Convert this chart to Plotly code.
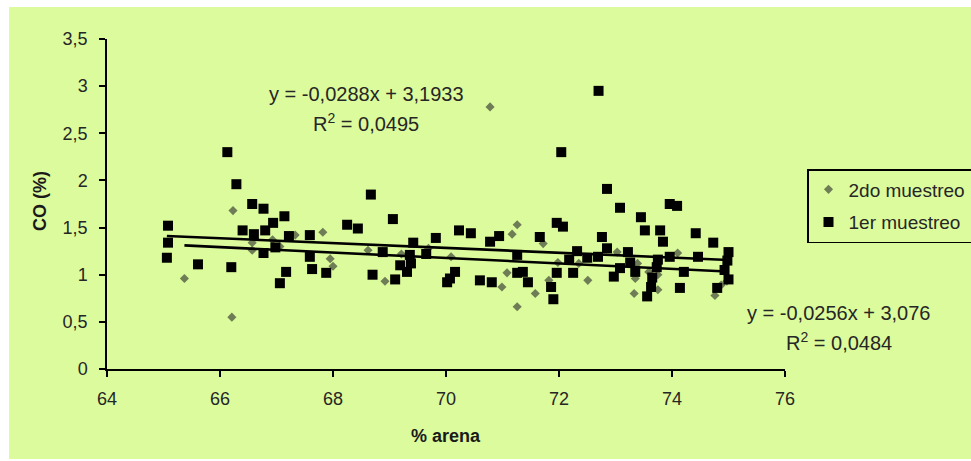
import plotly.graph_objects as go

# --- data -------------------------------------------------------------
# 1er muestreo (% arena, CO %)
arena_1er = [65.08, 65.08, 65.06, 65.61, 66.13, 66.20, 66.29, 66.40, 66.57, 66.60,
             66.77, 66.80, 66.77, 66.94, 66.98, 67.06, 67.14, 67.17, 67.22, 67.59,
             67.59, 67.63, 67.88, 68.25, 68.44, 68.67, 68.70, 68.88, 69.06, 69.10,
             69.19, 69.31, 69.38, 69.42, 69.36, 69.65, 69.82, 70.02, 70.07, 70.16,
             70.23, 70.44, 70.60, 70.78, 70.81, 70.94, 71.26, 71.26, 71.36, 71.45,
             71.66, 71.86, 71.90, 71.96, 72.07, 72.04, 71.96, 72.25, 72.32, 72.18,
             72.50, 72.69, 72.70, 72.76, 72.85, 72.85, 72.97, 73.08, 73.08, 73.22,
             73.26, 73.35, 73.45, 73.52, 73.56, 73.63, 73.65, 73.73, 73.75, 73.79,
             73.84, 73.96, 74.09, 73.96, 74.14, 74.21, 74.42, 74.46, 74.73, 74.80,
             74.93, 75.00, 75.00, 74.98]
co_1er = [1.52, 1.34, 1.18, 1.11, 2.30, 1.08, 1.96, 1.47, 1.75, 1.43,
          1.70, 1.47, 1.23, 1.55, 1.29, 0.91, 1.62, 1.03, 1.41, 1.42,
          1.19, 1.06, 1.02, 1.53, 1.49, 1.85, 1.00, 1.24, 1.59, 0.95,
          1.10, 1.03, 1.12, 1.34, 1.21, 1.22, 1.39, 0.92, 0.96, 1.03,
          1.47, 1.44, 0.94, 1.35, 0.92, 1.41, 1.21, 1.02, 1.03, 0.92,
          1.40, 0.87, 0.74, 1.55, 1.51, 2.30, 1.02, 1.02, 1.25, 1.16,
          1.18, 1.19, 2.95, 1.40, 1.91, 1.28, 0.98, 1.71, 1.07, 1.24,
          1.13, 1.03, 1.61, 1.47, 0.77, 0.87, 0.97, 1.08, 1.16, 1.47,
          1.35, 1.75, 1.73, 1.19, 0.86, 1.03, 1.44, 1.19, 1.34, 0.86,
          1.05, 1.24, 0.95, 1.15]

# 2do muestreo (% arena, CO %)
arena_2do = [65.37, 66.23, 66.21, 66.57, 66.57, 66.93, 67.06, 67.33, 67.82, 67.95,
             68.00, 68.62, 68.92, 69.21, 69.69, 70.09, 70.78, 70.99, 71.08, 71.17,
             71.26, 71.26, 71.58, 71.72, 71.82, 71.98, 72.35, 72.51, 73.03, 73.33,
             73.35, 73.39, 73.59, 73.75, 73.75, 74.10, 74.76, 74.87, 74.97]
co_2do = [0.96, 1.68, 0.55, 1.34, 1.26, 1.37, 1.30, 1.42, 1.45, 1.17,
          1.09, 1.26, 0.93, 1.22, 1.28, 1.19, 2.78, 0.87, 1.02, 1.43,
          1.53, 0.66, 0.80, 1.33, 0.94, 1.13, 1.12, 0.94, 1.24, 0.80,
          0.96, 1.12, 1.03, 0.84, 1.00, 1.23, 0.78, 0.89, 0.93]

# linear trend lines (slope, intercept, R²) as printed on the chart
trend_2do = (-0.0288, 3.1933, 0.0495)
trend_1er = (-0.0256, 3.076, 0.0484)

x_ticks = [64, 66, 68, 70, 72, 74, 76]
y_ticks = [0, 0.5, 1, 1.5, 2, 2.5, 3, 3.5]

# --- figure -----------------------------------------------------------
BG = "#DCFB9C"
FONT = "Liberation Sans, Arial, sans-serif"
W, H = 971, 461
ML, MR, MT, MB = 107, 186, 39, 92
PW, PH = W - ML - MR, H - MT - MB


def px_to_paper(px, py):
    return (px - ML) / PW, (H - MB - py) / PH


def fmt(v, nd):
    return f"{v:.{nd}f}".replace(".", ",")


fig = go.Figure()

fig.add_trace(go.Scatter(
    x=arena_2do, y=co_2do, mode="markers", name="2do muestreo",
    legendgroup="a",
    marker=dict(symbol="diamond", size=7, color="#6E7D55", line=dict(width=0)),
))
fig.add_trace(go.Scatter(
    x=arena_1er, y=co_1er, mode="markers", name="1er muestreo",
    legendgroup="b",
    marker=dict(symbol="square", size=10, color="#000000", line=dict(width=0)),
))


def trend_xy(xs, coef):
    m, b, _ = coef
    x0, x1 = min(xs), max(xs)
    return [x0, x1], [m * x0 + b, m * x1 + b]


for xs, coef in ((arena_2do, trend_2do), (arena_1er, trend_1er)):
    tx, ty = trend_xy(xs, coef)
    fig.add_trace(go.Scatter(x=tx, y=ty, mode="lines", showlegend=False,
                             hoverinfo="skip",
                             line=dict(color="#000000", width=2.6)))

# light green chart area with a thin white border on the left/top/bottom
x0p, y0p = px_to_paper(9, 459)
x1p, y1p = px_to_paper(W + 2, 7)
fig.add_shape(type="rect", xref="paper", yref="paper",
              x0=x0p, y0=y0p, x1=x1p, y1=y1p,
              fillcolor=BG, line=dict(width=0), layer="below")

annotations = []


def eq_text(coef):
    m, b, r2 = coef
    sign = "-" if m < 0 else ""
    return (f"y = {sign}{fmt(abs(m), 4)}x + {fmt(b, 4).rstrip('0').rstrip(',')}",
            f"R<sup>2</sup> = {fmt(r2, 4)}")


for coef, (cx, cy1, cy2) in ((trend_2do, (366, 94, 123)),
                             (trend_1er, (839, 313, 341))):
    l1, l2 = eq_text(coef)
    for txt, cy in ((l1, cy1), (l2, cy2)):
        ax_, ay_ = px_to_paper(cx, cy)
        annotations.append(dict(text=txt, x=ax_, y=ay_, xref="paper", yref="paper",
                                showarrow=False, xanchor="center", yanchor="middle",
                                font=dict(family=FONT, size=20, color="#262626")))

# axis titles
tx_, ty_ = px_to_paper(446, 436)
annotations.append(dict(text="<b>% arena</b>", x=tx_, y=ty_, xref="paper", yref="paper",
                        showarrow=False, xanchor="center", yanchor="middle",
                        font=dict(family=FONT, size=18, color="#1a1a1a")))
tx_, ty_ = px_to_paper(40, 201)
annotations.append(dict(text="<b>CO (%)</b>", x=tx_, y=ty_, xref="paper", yref="paper",
                        showarrow=False, xanchor="center", yanchor="middle",
                        textangle=-90,
                        font=dict(family=FONT, size=18, color="#1a1a1a")))

fig.update_layout(
    width=W, height=H,
    margin=dict(l=ML, r=MR, t=MT, b=MB, pad=0),
    paper_bgcolor="#FFFFFF",
    plot_bgcolor=BG,
    separators=", ",
    font=dict(family=FONT, size=18, color="#262626"),
    showlegend=True,
    legend=dict(xref="container", yref="container",
                x=807 / W, y=1 - 169 / H, xanchor="left", yanchor="top",
                bgcolor="rgba(0,0,0,0)", bordercolor="#000000", borderwidth=1.5,
                traceorder="grouped", tracegroupgap=5,
                font=dict(family=FONT, size=19, color="#262626")),
    annotations=annotations,
    xaxis=dict(range=[64, 76], tickvals=x_ticks, showgrid=False, zeroline=False,
               showline=True, linecolor="#000000", linewidth=1.5,
               ticks="outside", ticklen=6, tickcolor="#000000", tickwidth=1.5,
               ticklabelstandoff=7, fixedrange=True),
    yaxis=dict(range=[0, 3.5], tickvals=y_ticks, showgrid=False, zeroline=False,
               showline=True, linecolor="#000000", linewidth=1.5,
               ticks="outside", ticklen=6, tickcolor="#000000", tickwidth=1.5,
               ticklabelstandoff=8, fixedrange=True),
)

fig.write_html("out.html")
